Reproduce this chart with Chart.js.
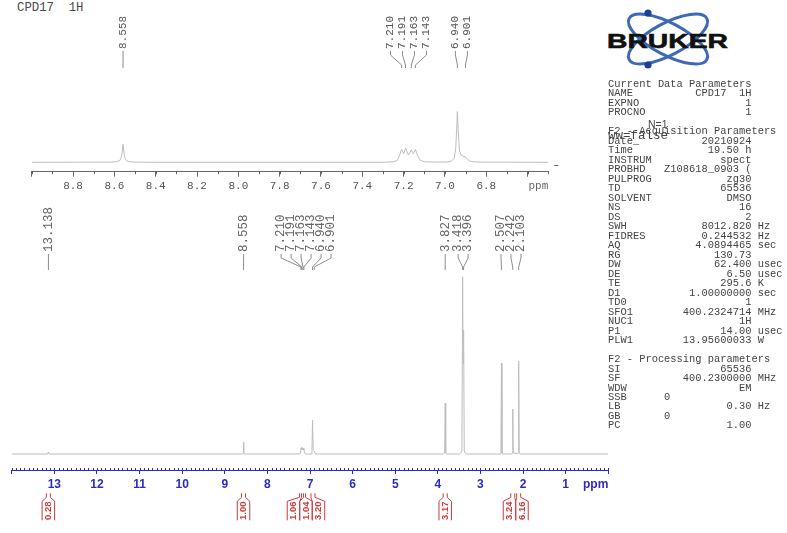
<!DOCTYPE html>
<html>
<head>
<meta charset="utf-8">
<script src="https://cdn.jsdelivr.net/npm/chart.js@4.4.1/dist/chart.umd.min.js"></script>
<style>
  body { margin: 0; background: #fff; }
  #page { position: relative; width: 787px; height: 533px; overflow: hidden; font-family: "Liberation Mono", monospace; color: #3c3c3c; }
  #title { position: absolute; left: 17px; top: 1px; font-size: 12.3px; white-space: pre; color: #4a4a4a; }
  #inset { position: absolute; left: 0; top: 0; }
  #main { position: absolute; left: 0; top: 200px; }
  #logo { position: absolute; left: 600px; top: 0; }
  #params { position: absolute; left: 608px; top: 80px; margin: 0; font-family: "Liberation Mono", monospace; font-size: 10.4px; line-height: 9.48px; color: #444; }
  .note { position: absolute; white-space: pre; color: #444; }
</style>
</head>
<body>
<div id="page">
  <div id="title">CPD17  1H</div>
  <canvas id="inset" width="580" height="200"></canvas>
  <canvas id="main" width="620" height="333"></canvas>
  <svg id="logo" width="140" height="75" viewBox="0 0 140 75">
    <g fill="none" stroke="#3d69b7" stroke-width="3">
      <ellipse cx="68" cy="39" rx="44" ry="16" transform="rotate(28 68 39)"/>
      <ellipse cx="68" cy="39" rx="44" ry="16" transform="rotate(-28 68 39)"/>
    </g>
    <circle cx="48" cy="13" r="3.6" fill="#1f3f8f"/>
    <circle cx="48" cy="65" r="3.6" fill="#1f3f8f"/>
    <text x="7" y="47.5" font-family="Liberation Sans" font-weight="bold" font-size="20.5" textLength="121" lengthAdjust="spacingAndGlyphs" fill="#111" stroke="#111" stroke-width="0.6">BRUKER</text>
  </svg>
  <pre id="params"></pre>
  <div class="note" style="left:648px;top:118px;font-family:'Liberation Sans';font-size:10.5px;">N=1</div>
  <div class="note" style="left:608px;top:129px;font-family:'Liberation Mono';font-size:12.5px;">ww=false</div>
</div>
<script>
// inset spectrum, 9.0 - 6.5 ppm (intensity in plot units, baseline 0)
const insetPpm = [9.0, 8.62, 8.59, 8.575, 8.568, 8.563, 8.558, 8.553, 8.548, 8.541, 8.525, 8.5, 8.4,
  7.3, 7.25, 7.23, 7.218, 7.21, 7.2, 7.191, 7.177, 7.163, 7.153, 7.143, 7.133, 7.12, 7.1, 7.05,
  6.99, 6.97, 6.955, 6.948, 6.943, 6.94, 6.936, 6.93, 6.922, 6.912, 6.901, 6.892, 6.88, 6.86, 6.82, 6.5];
const insetIntensity = [0, 0.2, 0.6, 1.5, 4, 9, 18, 9, 4, 1.5, 0.6, 0.2, 0,
  0, 0.5, 2, 8, 13, 8.5, 14, 7.3, 12.3, 8.5, 13, 7, 2, 0.6, 0.2,
  0.3, 1, 4, 14, 35, 50.6, 32, 12, 7, 6, 5.5, 3, 1.2, 0.5, 0.2, 0];

// full spectrum, 14 - 0 ppm
const mainPpm = [14.0, 13.16, 13.138, 13.12,
  8.58, 8.565, 8.558, 8.551, 8.54,
  7.24, 7.22, 7.21, 7.2, 7.191, 7.177, 7.163, 7.153, 7.143, 7.13, 7.11,
  6.97, 6.955, 6.94, 6.925, 6.901, 6.88, 6.86,
  3.86, 3.84, 3.827, 3.815, 3.79,
  3.5, 3.46, 3.435, 3.418, 3.407, 3.396, 3.38, 3.36, 3.32,
  2.54, 2.52, 2.507, 2.495, 2.47,
  2.27, 2.255, 2.242, 2.23,
  2.13, 2.115, 2.103, 2.09, 2.07, 0.0];
const mainIntensity = [0, 0, 2, 0,
  0, 1, 12, 1, 0,
  0, 2, 6, 4, 7, 4, 6, 4, 6, 2, 0,
  0, 2, 34, 4, 3, 1, 0,
  0, 1, 51, 1, 0,
  0, 1, 3, 177, 90, 124, 3, 1, 0,
  0, 1, 91, 1, 0,
  0, 1, 45, 1,
  0.5, 1, 93, 1, 0, 0];

const insetPeaks = [8.558, 7.210, 7.191, 7.163, 7.143, 6.940, 6.901];
const mainPeaks = [13.138, 8.558, 7.210, 7.191, 7.163, 7.143, 6.940, 6.901, 3.827, 3.418, 3.396, 2.507, 2.242, 2.103];

const integralPpm = [13.14, 8.56, 7.20, 7.153, 6.93, 3.827, 2.242, 2.103];
const integralValues = [0.28, 1.00, 1.06, 1.04, 3.20, 3.17, 3.24, 6.16];

const params = [
  ['Current Data Parameters'],
  ['NAME', 'CPD17  1H'], ['EXPNO', '1'], ['PROCNO', '1'],
  [''],
  ['F2 - Acquisition Parameters'],
  ['Date_', '20210924'], ['Time', '19.50 h'], ['INSTRUM', 'spect'],
  ['PROBHD', 'Z108618_0903 ('], ['PULPROG', 'zg30'], ['TD', '65536'],
  ['SOLVENT', 'DMSO'], ['NS', '16'], ['DS', '2'],
  ['SWH', '8012.820', 'Hz'], ['FIDRES', '0.244532', 'Hz'], ['AQ', '4.0894465', 'sec'],
  ['RG', '130.73'], ['DW', '62.400', 'usec'], ['DE', '6.50', 'usec'],
  ['TE', '295.6', 'K'], ['D1', '1.00000000', 'sec'], ['TD0', '1'],
  ['SFO1', '400.2324714', 'MHz'], ['NUC1', '1H'], ['P1', '14.00', 'usec'],
  ['PLW1', '13.95600033', 'W'],
  [''],
  ['F2 - Processing parameters'],
  ['SI', '65536'], ['SF', '400.2300000', 'MHz'], ['WDW', 'EM'],
  ['SSB', '0', 'left'], ['LB', '0.30', 'Hz'], ['GB', '0', 'left'], ['PC', '1.00']
];

document.getElementById('params').textContent = params.map(([name, value, unit]) => {
  if (value === undefined) return name;
  if (unit === 'left') return name.padEnd(9) + value;
  return name.padEnd(23 - value.length) + value + (unit ? ' ' + unit : '');
}).join('\n');

Chart.defaults.font.family = 'Liberation Sans';

// spread label positions so they do not overlap, keeping each group centred
function spread(px, gap) {
  const groups = [];
  px.forEach(p => {
    groups.push({ sum: p, n: 1 });
    while (groups.length > 1) {
      const a = groups[groups.length - 2], b = groups[groups.length - 1];
      const aEnd = a.sum / a.n + (a.n - 1) * gap / 2;
      const bStart = b.sum / b.n - (b.n - 1) * gap / 2;
      if (bStart - aEnd >= gap) break;
      groups.pop();
      a.sum += b.sum;
      a.n += b.n;
    }
  });
  const out = [];
  groups.forEach(g => {
    const start = g.sum / g.n - (g.n - 1) * gap / 2;
    for (let k = 0; k < g.n; k++) out.push(start + k * gap);
  });
  return out;
}

const peakLabels = {
  id: 'peakLabels',
  afterDatasetsDraw(chart, args, opts) {
    if (!opts.values) return;
    const ctx = chart.ctx, top = chart.chartArea.top, xs = chart.scales.x;
    const peaks = opts.values.map(v => xs.getPixelForValue(v));
    const pos = spread(peaks, opts.gap);
    ctx.save();
    ctx.strokeStyle = '#808080';
    ctx.lineWidth = 0.9;
    ctx.beginPath();
    peaks.forEach((p, i) => {
      ctx.moveTo(pos[i], top - opts.rise);
      ctx.lineTo(pos[i], top - opts.rise + 4);
      ctx.lineTo(p, top - 3);
      ctx.lineTo(p, top);
    });
    ctx.stroke();
    ctx.fillStyle = opts.color;
    ctx.font = opts.font;
    ctx.textAlign = 'left';
    ctx.textBaseline = 'middle';
    opts.values.forEach((v, i) => {
      ctx.save();
      ctx.translate(pos[i], top - opts.rise - 2);
      ctx.rotate(-Math.PI / 2);
      ctx.fillText(v.toFixed(3), 0, 0);
      ctx.restore();
    });
    ctx.restore();
  }
};

const axisExtras = {
  id: 'axisExtras',
  afterDraw(chart, args, opts) {
    if (!opts.step) return;
    const ctx = chart.ctx, xs = chart.scales.x, ys = chart.scales.y;
    const y0 = chart.chartArea.bottom;
    const n = Math.round((xs.max - xs.min) / opts.step);
    ctx.save();
    ctx.strokeStyle = opts.color;
    ctx.lineWidth = 1;
    ctx.beginPath();
    for (let i = 0; i <= n; i++) {
      const x = Math.round(xs.getPixelForValue(xs.min + i * opts.step)) + 0.5;
      ctx.moveTo(x, y0 - opts.up);
      ctx.lineTo(x, y0 + opts.down);
    }
    if (opts.zeroMark) {
      const yz = Math.round(ys.getPixelForValue(0)) + 3.5;
      ctx.moveTo(xs.right + 6, yz);
      ctx.lineTo(xs.right + 10, yz);
    }
    ctx.stroke();
    ctx.fillStyle = opts.color;
    ctx.font = opts.font;
    ctx.textAlign = 'right';
    ctx.textBaseline = 'middle';
    ctx.fillText('ppm', xs.right, y0 + 14.3);
    ctx.restore();
  }
};

const integrals = {
  id: 'integrals',
  afterDraw(chart, args, opts) {
    if (!opts.ppm) return;
    const ctx = chart.ctx, xs = chart.scales.x;
    const y0 = chart.chartArea.bottom + 23.3;
    const notch = opts.ppm.map(v => xs.getPixelForValue(v));
    const box = spread(notch, opts.width);
    const hw = opts.width / 2;
    ctx.save();
    ctx.strokeStyle = opts.color;
    ctx.lineWidth = 1;
    ctx.beginPath();
    notch.forEach((nx, i) => {
      [-1, 1].forEach(s => {
        ctx.moveTo(nx + 2 * s, y0);
        ctx.lineTo(nx + 2 * s, y0 + 4);
        ctx.lineTo(box[i] + hw * s, y0 + 8);
        ctx.lineTo(box[i] + hw * s, y0 + 27);
      });
    });
    ctx.stroke();
    ctx.fillStyle = opts.color;
    ctx.font = 'bold 9.5px "Liberation Sans"';
    ctx.textAlign = 'center';
    ctx.textBaseline = 'middle';
    opts.values.forEach((v, i) => {
      ctx.save();
      ctx.translate(box[i], y0 + 17.5);
      ctx.rotate(-Math.PI / 2);
      ctx.fillText(v.toFixed(2), 0, 0);
      ctx.restore();
    });
    ctx.restore();
  }
};

const blue = '#2b2bbf';

new Chart(document.getElementById('inset'), {
  type: 'line',
  data: {
    datasets: [{
      data: insetPpm.map((p, i) => ({ x: p, y: insetIntensity[i] })),
      borderColor: '#bdbdbd', borderWidth: 1, pointRadius: 0, tension: 0
    }]
  },
  options: {
    responsive: false, animation: false, events: [],
    layout: { padding: { left: 31.7, right: 31.7, top: 68, bottom: 0 } },
    scales: {
      x: {
        type: 'linear', reverse: true, min: 6.5, max: 9.0,
        afterFit: s => { s.height = 28.3; },
        border: { color: '#666', width: 1 },
        grid: { drawOnChartArea: false, tickLength: 5, tickColor: '#666' },
        ticks: {
          stepSize: 0.2, includeBounds: false, autoSkip: false, maxRotation: 0, padding: 2.7,
          color: '#555', font: { family: 'Liberation Mono', size: 11 },
          callback: v => { const r = Math.round(v * 10) / 10; return (r >= 6.7 && r <= 8.9) ? r.toFixed(1) : ''; }
        }
      },
      y: { display: false, min: -9.4, max: 94.3 }
    },
    plugins: {
      legend: { display: false }, tooltip: { enabled: false },
      peakLabels: { values: insetPeaks, gap: 12, rise: 17, font: '11px "Liberation Mono"', color: '#555' },
      axisExtras: { step: 0.1, up: 0, down: 2.5, color: '#666', font: '11px "Liberation Mono"', zeroMark: true }
    }
  },
  plugins: [peakLabels, axisExtras]
});

new Chart(document.getElementById('main'), {
  type: 'line',
  data: {
    datasets: [{
      data: mainPpm.map((p, i) => ({ x: p, y: mainIntensity[i] })),
      borderColor: '#bdbdbd', borderWidth: 1, pointRadius: 0, tension: 0
    }]
  },
  options: {
    responsive: false, animation: false, events: [],
    layout: { padding: { left: 11.7, right: 11.7, top: 70, bottom: 0 } },
    scales: {
      x: {
        type: 'linear', reverse: true, min: 0, max: 14,
        afterFit: s => { s.height = 63; },
        border: { color: blue, width: 1 },
        grid: { drawOnChartArea: false, tickLength: 4, tickColor: blue },
        ticks: {
          stepSize: 1, autoSkip: false, maxRotation: 0, padding: 3.1,
          color: blue, font: { size: 12, weight: 'bold' },
          callback: v => (v >= 1 && v <= 13) ? String(v) : ''
        }
      },
      y: { display: false, min: -16, max: 184 }
    },
    plugins: {
      legend: { display: false }, tooltip: { enabled: false },
      peakLabels: { values: mainPeaks, gap: 10, rise: 16, font: '12.5px "Liberation Mono"', color: '#666' },
      axisExtras: { step: 0.1, up: 2, down: 0, color: blue, font: 'bold 12px "Liberation Sans"' },
      integrals: { ppm: integralPpm, values: integralValues, width: 12.5, color: '#cc3b3b' }
    }
  },
  plugins: [peakLabels, axisExtras, integrals]
});
</script>
</body>
</html>
